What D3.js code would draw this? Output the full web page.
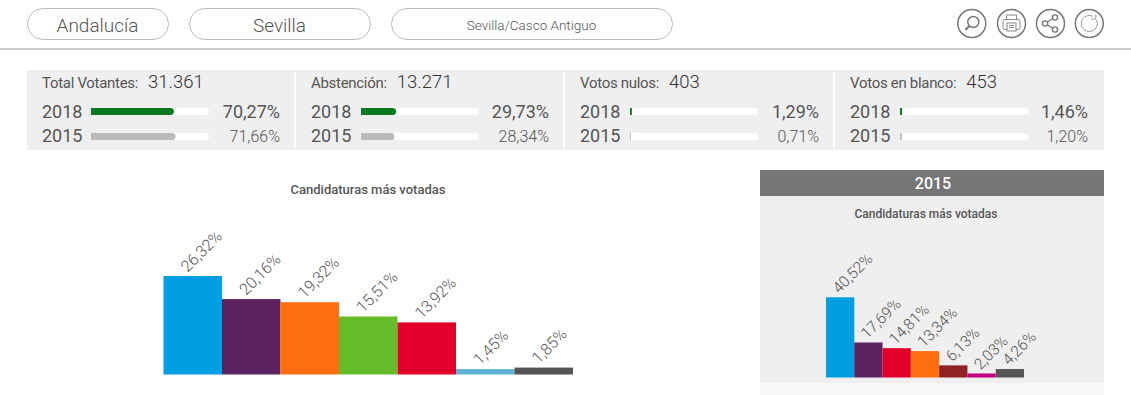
<!DOCTYPE html>
<html>
<head>
<meta charset="utf-8">
<script src="https://d3js.org/d3.v7.min.js"></script>
<style>
  html, body { margin: 0; padding: 0; background: #fff; overflow: hidden; }
  text { font-family: Roboto, sans-serif; }
</style>
</head>
<body>
<script>
const places = ['Andalucía', 'Sevilla', 'Sevilla/Casco Antiguo'];

const statLabels = ['Total Votantes:', 'Abstención:', 'Votos nulos:', 'Votos en blanco:'];
const statTotals = ['31.361', '13.271', '403', '453'];
const pct2018 = [70.27, 29.73, 1.29, 1.46];
const pct2015 = [71.66, 28.34, 0.71, 1.20];

const chartTitle = 'Candidaturas más votadas';
const panelYear = '2015';

const votes2018 = [26.32, 20.16, 19.32, 15.51, 13.92, 1.45, 1.85];
const colors2018 = ['#009fe3', '#5c2360', '#ff6e0e', '#66bb28', '#e2002a', '#5fb3d3', '#555555'];

const votes2015 = [40.52, 17.69, 14.81, 13.34, 6.13, 2.03, 4.26];
const colors2015 = ['#009fe3', '#5c2360', '#e2002a', '#ff6e0e', '#8f2222', '#c4007f', '#555555'];

const fmt = v => v.toFixed(2).replace('.', ',') + '%';

const svg = d3.select('body')
  .append('svg')
  .attr('width', 1131)
  .attr('height', 395)
  .style('display', 'block');

// top bar
const pills = [{ x: 27, w: 141, size: 19 }, { x: 189, w: 181, size: 19 }, { x: 391, w: 281, size: 13.5 }];
pills.forEach((p, i) => {
  svg.append('rect')
    .attr('x', p.x + 0.5).attr('y', 8.5)
    .attr('width', p.w).attr('height', 31)
    .attr('rx', 15.5)
    .attr('fill', '#fff').attr('stroke', '#bdbdbd');
  svg.append('text')
    .attr('x', p.x + p.w / 2).attr('y', 25)
    .attr('dy', '0.36em')
    .attr('text-anchor', 'middle')
    .attr('font-size', p.size)
    .attr('font-weight', 300)
    .attr('fill', '#555')
    .text(places[i]);
});

svg.append('rect')
  .attr('x', 0).attr('y', 48)
  .attr('width', 1131).attr('height', 2)
  .attr('fill', '#ccc');

// round icons
const iconX = [971.8, 1011.5, 1050.5, 1089.3];
const icons = svg.selectAll('.icon')
  .data(iconX)
  .enter()
  .append('g')
  .classed('icon', true)
  .attr('transform', d => `translate(${d},23.5)`)
  .attr('fill', 'none')
  .attr('stroke', '#777');
icons.append('circle').attr('r', 14).attr('stroke-width', 1.5);

// magnifier
const lens = d3.select(icons.nodes()[0]);
lens.append('circle').attr('cx', 1.5).attr('cy', -1.5).attr('r', 5.5).attr('stroke-width', 1.5);
lens.append('line').attr('x1', -2.5).attr('y1', 2.5).attr('x2', -6.5).attr('y2', 6.5).attr('stroke-width', 2);

// printer
const printer = d3.select(icons.nodes()[1]).append('g').attr('stroke', '#888');
printer.append('path').attr('d', 'M-5,-4V-8.5H5V-4');
printer.append('rect').attr('x', -8.5).attr('y', -4).attr('width', 17).attr('height', 10).attr('rx', 2);
printer.append('rect').attr('x', -4.5).attr('y', -0.5).attr('width', 9).attr('height', 8).attr('fill', '#fff');
printer.append('path').attr('d', 'M-2.5,2H2.5M-2.5,4H2.5');

// share
const share = d3.select(icons.nodes()[2]);
share.append('path').attr('d', 'M-5,0L4,-6M-5,0L4,6').attr('stroke-width', 1.3);
share.append('circle').attr('cx', -5.5).attr('cy', 0).attr('r', 2.6).attr('stroke-width', 1.4).attr('fill', '#fff');
share.append('circle').attr('cx', 4.5).attr('cy', -6).attr('r', 2.6).attr('stroke-width', 1.4).attr('fill', '#fff');
share.append('circle').attr('cx', 4.5).attr('cy', 6).attr('r', 2.6).attr('stroke-width', 1.4).attr('fill', '#fff');

// reload
const reload = d3.select(icons.nodes()[3]).append('g').attr('stroke', '#999');
const arcPath = d3.path();
arcPath.arc(0, 0, 8, -0.45, -1.1, false);
reload.append('path').attr('d', arcPath.toString());
reload.append('path').attr('d', 'M6.5,-9V-4.5H2');

// stats strip
svg.append('rect')
  .attr('x', 27).attr('y', 70)
  .attr('width', 1077).attr('height', 80)
  .attr('fill', '#efefef');

const colX = [42, 311, 580, 850];
const valueX = [280, 549, 819, 1088];
const trackX = [91, 361, 630, 900];
const trackW = [118, 118, 128, 128];
const divX = [295, 564, 834];

svg.selectAll('.divider')
  .data(divX)
  .enter()
  .append('rect')
  .classed('divider', true)
  .attr('x', d => d - 1).attr('y', 72)
  .attr('width', 2).attr('height', 76)
  .attr('fill', '#fff');

statLabels.forEach((label, i) => {
  const g = svg.append('g');
  const barX = d3.scaleLinear().domain([0, 100]).range([0, trackW[i]]);
  const head = g.append('text')
    .attr('x', colX[i]).attr('y', 88)
    .attr('font-size', 15)
    .attr('letter-spacing', -0.3)
    .attr('fill', '#555')
    .text(label);
  g.append('text')
    .attr('x', colX[i] + head.node().getComputedTextLength() + 10)
    .attr('y', 88)
    .attr('font-size', 18.5)
    .attr('font-weight', 300)
    .attr('fill', '#333')
    .text(statTotals[i]);

  const rows = [
    { year: '2018', v: pct2018[i], y: 118, barY: 108, fill: '#0a7a22', size: 18, weight: 400, col: '#555' },
    { year: '2015', v: pct2015[i], y: 142, barY: 133, fill: '#bbbbbb', size: 16, weight: 300, col: '#555' }
  ];
  rows.forEach(r => {
    g.append('text')
      .attr('x', colX[i]).attr('y', r.y)
      .attr('font-size', 18)
      .attr('fill', '#555')
      .text(r.year);
    g.append('rect')
      .attr('x', trackX[i]).attr('y', r.barY)
      .attr('width', barX(100)).attr('height', 7)
      .attr('rx', 3.5)
      .attr('fill', '#fff');
    const w = barX(r.v);
    g.append('rect')
      .attr('x', trackX[i]).attr('y', r.barY)
      .attr('width', w).attr('height', 7)
      .attr('rx', Math.min(3.5, w / 2))
      .attr('fill', r.fill);
    // left end of the bar is square
    g.append('rect')
      .attr('x', trackX[i]).attr('y', r.barY)
      .attr('width', Math.min(4, w)).attr('height', 7)
      .attr('fill', r.fill);
    g.append('text')
      .attr('x', valueX[i]).attr('y', r.y)
      .attr('text-anchor', 'end')
      .attr('font-size', r.size)
      .attr('font-weight', r.weight)
      .attr('fill', r.col)
      .text(fmt(r.v));
  });
});

// 2015 panel
svg.append('rect').attr('x', 760).attr('y', 383).attr('width', 344).attr('height', 12).attr('fill', '#f7f7f7');
svg.append('rect').attr('x', 760).attr('y', 196).attr('width', 344).attr('height', 187).attr('fill', '#efefef');
svg.append('rect').attr('x', 760).attr('y', 170).attr('width', 344).attr('height', 26).attr('fill', '#757575');
svg.append('text')
  .attr('x', 933).attr('y', 189)
  .attr('text-anchor', 'middle')
  .attr('font-size', 16)
  .attr('font-weight', 500)
  .attr('fill', '#fff')
  .text(panelYear);

const barChart = params => {
  const x = d3.scaleBand()
    .domain(d3.range(params.data.length))
    .range(params.xRange);
  const y = d3.scaleLinear()
    .domain([0, params.max])
    .range([params.base, params.top]);

  svg.append('text')
    .attr('x', params.titleX).attr('y', params.titleY)
    .attr('text-anchor', 'middle')
    .attr('font-size', params.titleSize)
    .attr('font-weight', 500)
    .attr('fill', '#555')
    .text(chartTitle);

  svg.selectAll(null)
    .data(params.data)
    .enter()
    .append('rect')
    .attr('x', (d, i) => x(i))
    .attr('y', d => y(d))
    .attr('width', x.bandwidth())
    .attr('height', d => params.base - y(d))
    .attr('fill', (d, i) => params.colors[i]);

  svg.selectAll(null)
    .data(params.data)
    .enter()
    .append('text')
    .attr('transform', (d, i) => `translate(${x(i) + params.labelDx},${y(d) - 3}) rotate(-45)`)
    .attr('font-size', params.labelSize)
    .attr('font-weight', 300)
    .attr('fill', '#555')
    .text(fmt);
};

barChart({
  data: votes2018, colors: colors2018, max: 26.32,
  xRange: [163.5, 573], base: 374.5, top: 276,
  titleX: 368, titleY: 194, titleSize: 13, labelDx: 24, labelSize: 16
});
barChart({
  data: votes2015, colors: colors2015, max: 40.52,
  xRange: [826, 1024], base: 377.5, top: 297.3,
  titleX: 926, titleY: 218, titleSize: 12, labelDx: 13, labelSize: 15.5
});
</script>
</body>
</html>
